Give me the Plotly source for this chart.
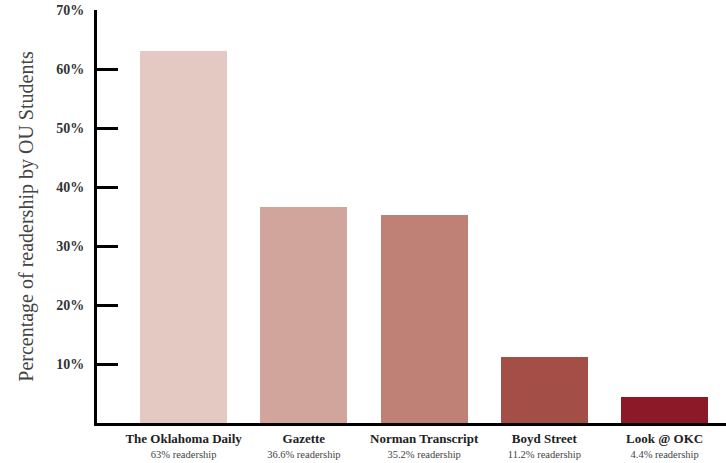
import plotly.graph_objects as go

categories = ["The Oklahoma Daily", "Gazette", "Norman Transcript", "Boyd Street", "Look @ OKC"]
values = [63, 36.6, 35.2, 11.2, 4.4]
sublabels = ["63% readership", "36.6% readership", "35.2% readership", "11.2% readership", "4.4% readership"]
colors = ["#e4c9c2", "#d2a59c", "#bf8176", "#a34f48", "#8b1927"]
ytick_vals = [10, 20, 30, 40, 50, 60, 70]
ytick_text = ["10%", "20%", "30%", "40%", "50%", "60%", "70%"]

ticktext = [f"<span style='font-size:13px'><b>{c}</b></span><br>"
            f"<span style='font-size:10.5px;color:#444'>{s}</span>"
            for c, s in zip(categories, sublabels)]

fig = go.Figure(go.Bar(
    x=list(range(len(categories))), y=values,
    marker=dict(color=colors, line=dict(width=0)),
    width=0.725, hoverinfo="skip",
))

fig.update_layout(
    width=726, height=463,
    margin=dict(l=97, r=0, t=10, b=40),
    plot_bgcolor="white", paper_bgcolor="white",
    font=dict(family="Liberation Serif", color="#222"),
    showlegend=False,
    bargap=0,
)
fig.update_xaxes(
    range=[-0.72, 4.51],
    tickmode="array", tickvals=list(range(len(categories))), ticktext=ticktext,
    tickfont=dict(size=11, color="#222", family="Liberation Serif"),
    showline=True, linecolor="black", linewidth=3,
    showgrid=False, zeroline=False, ticks="",
    ticklabelstandoff=4,
)
fig.update_yaxes(
    range=[0, 70],
    tickmode="array", tickvals=ytick_vals, ticktext=ytick_text,
    tickfont=dict(size=14, color="#333", family="Liberation Serif", weight="bold"),
    ticks="inside", ticklen=21, tickwidth=2.5, tickcolor="black",
    showline=True, linecolor="black", linewidth=3,
    showgrid=False, zeroline=False,
    ticklabelstandoff=7,
    title=dict(text="Percentage of readership by OU Students",
               font=dict(size=20, color="#444", family="Liberation Serif"), standoff=18),
)

fig.write_html("out.html")
